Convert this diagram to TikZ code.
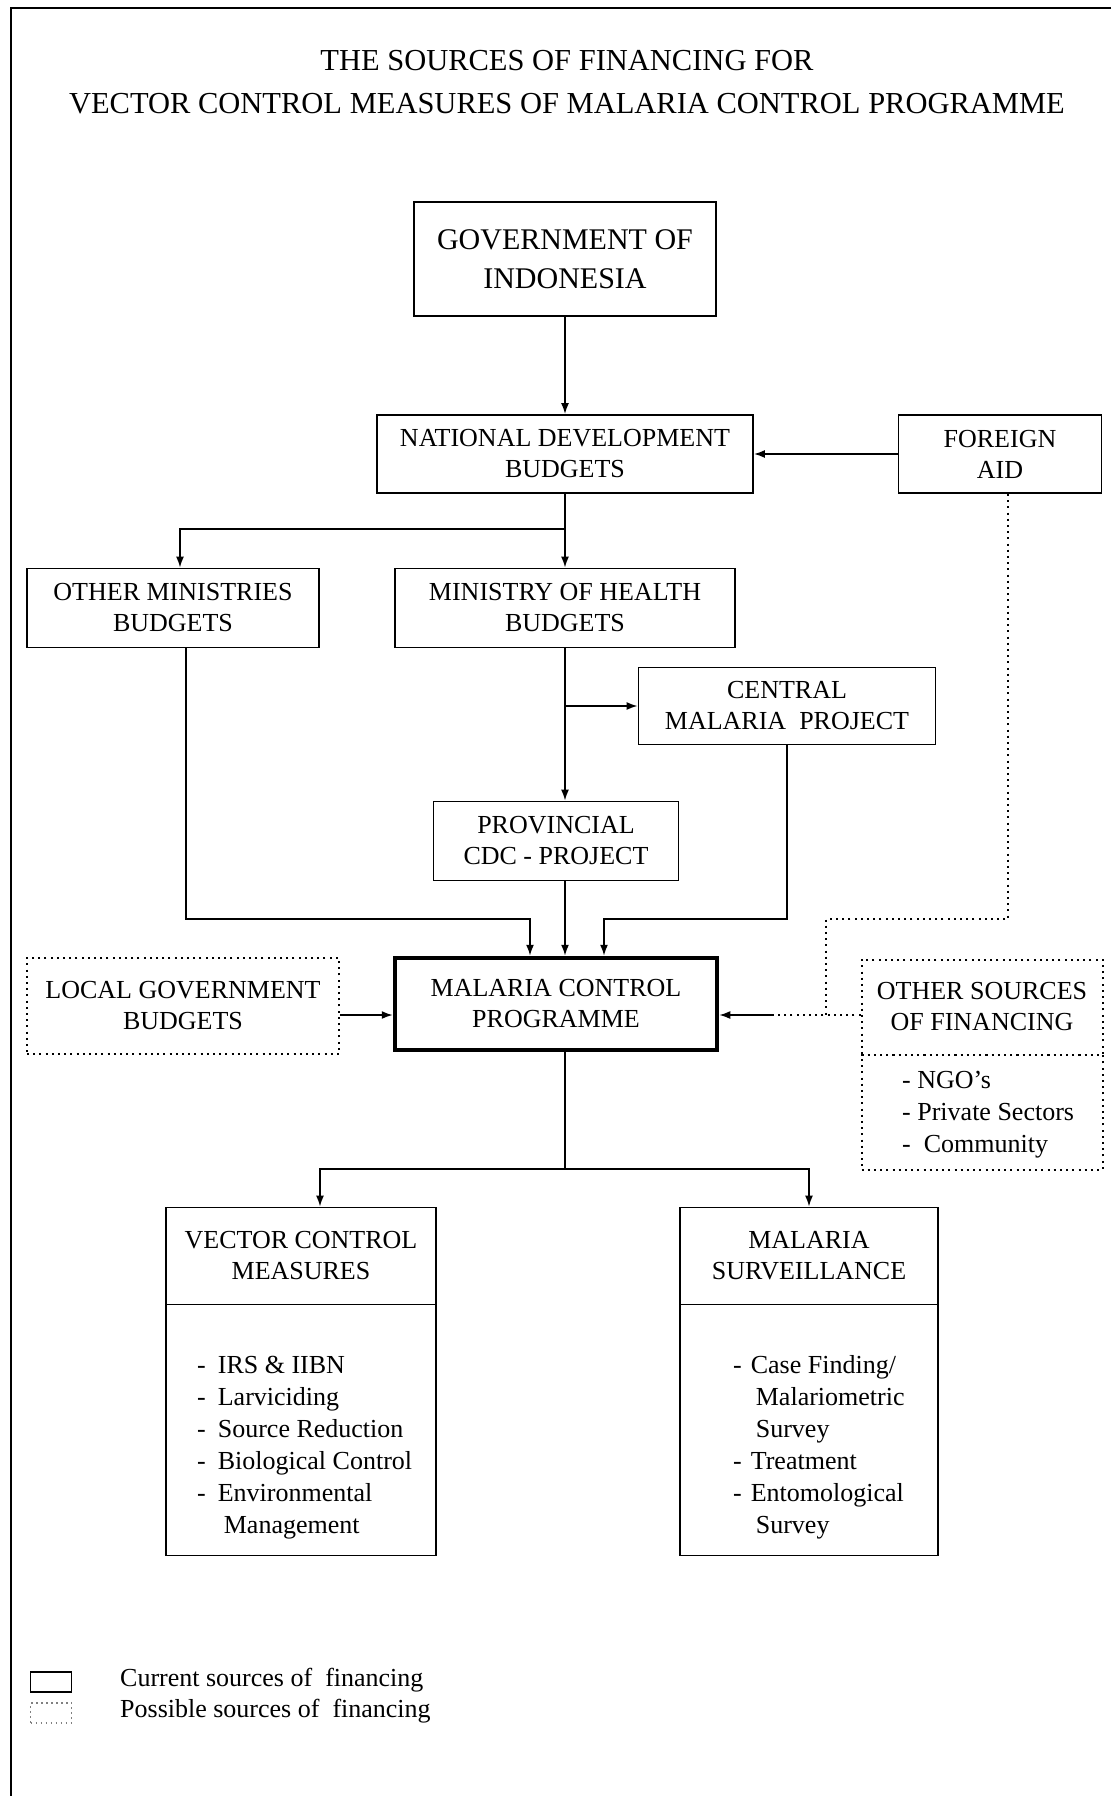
\documentclass[tikz,border=0pt]{standalone}
\usepackage{fontspec}
\setmainfont{Liberation Serif}
\usetikzlibrary{arrows.meta}
\newcommand{\chartfont}{\fontsize{26}{31}\selectfont}
\newcommand{\listfont}{\fontsize{26}{32}\selectfont}
\newcommand{\titlefont}{\fontsize{30.5}{43}\selectfont}

\begin{document}
\begin{tikzpicture}[x=1pt, y=-1pt,
    current/.style ={draw, line width=1.8pt, inner sep=0pt, align=center, font=\chartfont},
    possible/.style ={current, line width=2pt, dash pattern=on 2pt off 4.2pt},
    feed/.style ={line width=1.7pt, -{Latex[length=11pt,width=8pt]}},
    possfeed/.style ={line width=2pt, dash pattern=on 2pt off 4.2pt},
    items/.style ={inner sep=0pt, anchor=base west, font=\listfont}]
   \useasboundingbox (0,0) rectangle (1111,1796);
   % page frame
   \draw[line width=2.5pt] (1111,8) -- (11,8) -- (11,1796);
   \node[font=\titlefont, align=center] (title) at (567,82)
     {THE SOURCES OF FINANCING FOR\\VECTOR CONTROL MEASURES OF MALARIA CONTROL PROGRAMME};

   % sources
   \node[current, font=\fontsize{30}{39}\selectfont, minimum width=302, minimum height=114] (gov) at (565,259) {GOVERNMENT OF\\INDONESIA};
   \node[current, minimum width=376, minimum height=78] (natdev) at (565,454) {NATIONAL DEVELOPMENT\\BUDGETS};
   \node[current, minimum width=203, minimum height=78] (foreign) at (1000,454) {FOREIGN\\AID};
   \node[current, minimum width=292, minimum height=79] (othmin) at (173,608) {OTHER MINISTRIES\\BUDGETS};
   \node[current, minimum width=340, minimum height=79] (moh) at (565,608) {MINISTRY OF HEALTH\\BUDGETS};
   \node[current, minimum width=297, minimum height=77] (central) at (787,706) {CENTRAL\\MALARIA\ \ PROJECT};
   \node[current, minimum width=245, minimum height=79] (prov) at (556,841) {PROVINCIAL\\CDC - PROJECT};
   \node[current, line width=4.5pt, minimum width=322, minimum height=92] (mcp) at (556,1004) {MALARIA CONTROL\\PROGRAMME};
   \node[possible, minimum width=312, minimum height=96] (local) at (183,1006) {LOCAL GOVERNMENT\\BUDGETS};
   \node[possible, minimum width=241, minimum height=95] (other) at (982,1007) {OTHER SOURCES\\OF FINANCING};
   \node[possible, minimum width=241, minimum height=115] (otherlist) at (982,1112) {};
   \node[items] (otheritems) at (902,1088) {\begin{tabular}[t]{@{}l@{}}- NGO's\\- Private Sectors\\-\ \ Community\end{tabular}};

   % activities
   \node[current, minimum width=270, minimum height=97] (vcm) at (301,1256) {VECTOR CONTROL\\MEASURES};
   \node[current, minimum width=270, minimum height=251] (vcmlist) at (301,1430) {};
   \node[items] (vcmitems) at (197,1373) {\begin{tabular}[t]{@{}l@{\hspace{12pt}}l@{}}
     - & IRS \& IIBN\\ - & Larviciding\\ - & Source Reduction\\ - & Biological Control\\
     - & Environmental\\ & \hspace{6pt}Management\end{tabular}};
   \node[current, minimum width=258, minimum height=97] (ms) at (809,1256) {MALARIA\\SURVEILLANCE};
   \node[current, minimum width=258, minimum height=251] (mslist) at (809,1430) {};
   \node[items] (msitems) at (733,1373) {\begin{tabular}[t]{@{}l@{\hspace{9pt}}l@{}}
     - & Case Finding/\\ & \hspace{5pt}Malariometric\\ & \hspace{5pt}Survey\\ - & Treatment\\
     - & Entomological\\ & \hspace{5pt}Survey\end{tabular}};

   % flows
   \coordinate (spine) at (565,0);
   \coordinate (splitrow) at (0,529);
   \coordinate (joinrow) at (0,919);
   \coordinate (progrow) at (0,1015);
   \coordinate (forkrow) at (0,1169);
   \coordinate (tipa) at ([xshift=-35]mcp.north -| spine);
   \coordinate (tipc) at ([xshift=39]mcp.north -| spine);
   \coordinate (aidbend) at (826,919);
   \coordinate (aidjoin) at (773,1015);
   \coordinate (fork) at (spine |- forkrow);
   \draw[feed] (gov) -- (natdev);
   \draw[feed] (foreign) -- (natdev);
   \draw[feed] (natdev.south) -- (moh.north -| spine);
   \draw[feed] (spine |- splitrow) -| ([xshift=7]othmin.north);
   \draw[feed] (moh.south -| spine) -- (prov.north -| spine);
   \draw[feed] (spine |- central.west) -- (central.west);
   \draw[feed] (prov.south -| spine) -- (mcp.north -| spine);
   \draw[feed] ([xshift=13]othmin.south) |- (joinrow -| tipa) -- (tipa);
   \draw[feed] (central.south) |- (joinrow -| tipc) -- (tipc);
   \draw[feed] (local.east |- progrow) -- (mcp.east |- progrow -| mcp.west);
   \draw[possfeed] ([xshift=8]foreign.south) |- (aidbend) -- (aidbend |- progrow);
   \draw[possfeed] (other.west |- progrow) -- (aidjoin);
   \draw[feed] (aidjoin) -- (mcp.east |- progrow);
   \draw[line width=1.7pt] (mcp.south -| spine) -- (fork);
   \draw[feed] (fork) -| ([xshift=19]vcm.north);
   \draw[feed] (fork) -| (ms.north);

   % key
   \node[draw, line width=1.8pt, minimum width=41, minimum height=20, inner sep=0pt] (keycur) at (51,1682) {};
   \node[draw, gray, line width=1.6pt, dash pattern=on 1.6pt off 3.4pt, minimum width=41, minimum height=20, inner sep=0pt] (keyposs) at (51,1713) {};
   \node[font=\chartfont, anchor=west, inner sep=0pt] (keycurtext) at (120,1680) {Current sources of\ \ financing};
   \node[font=\chartfont, anchor=west, inner sep=0pt] (keypossext) at (120,1711) {Possible sources of\ \ financing};
\end{tikzpicture}
\end{document}
